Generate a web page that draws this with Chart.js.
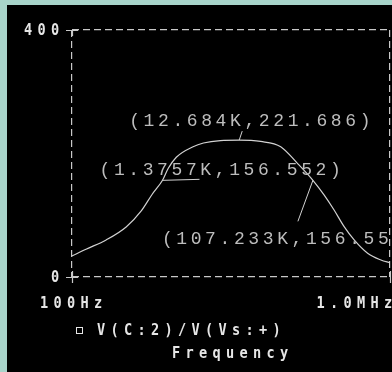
<!DOCTYPE html>
<html><head><meta charset="utf-8">
<script src="https://cdn.jsdelivr.net/npm/chart.js@4/dist/chart.umd.min.js"></script>
<style>
html,body{margin:0;padding:0;background:#a8d4ca;width:392px;height:372px;overflow:hidden}
#wrap{position:absolute;left:7px;top:5px;width:385px;height:367px;background:#000}
canvas{display:block}
</style></head><body>
<div id="wrap"><canvas id="c" width="385" height="367"></canvas></div>
<script>
// Frequency (Hz) and gain V(C:2)/V(Vs:+)
const freqs = [100, 150, 269, 480, 743, 1021, 1375.7, 1626, 2051, 3334, 4500, 7360, 12684, 23600, 42200, 68500, 107233, 148000, 198000, 265000, 354000, 523000, 769000, 1000000];
const gains = [34, 45, 60, 81, 107, 134, 156.6, 176, 194, 211, 217, 221, 221.7, 219.5, 211, 184, 156.6, 133, 108.5, 81.5, 60, 38.4, 27.5, 23];
const xTicks = [100, 1000000];
const xTickLabels = ['100Hz', '1.0MHz'];
const yTicks = [0, 400];
const yTickLabels = ['0', '400'];
const seriesName = 'V(C:2)/V(Vs:+)';
const xTitle = 'Frequency';
const markerX = [12684, 1375.7, 107233];
const markerY = [221.686, 156.552, 156.55];
const markerLabels = ['(12.684K,221.686)', '(1.3757K,156.552)', '(107.233K,156.552)'];

const LINE = '#d2d2d2';
const AXIS = '#c8c8c8';

function drawSpaced(ctx, text, x, y, spacing, align) {
  ctx.letterSpacing = spacing + 'px';
  const w = ctx.measureText(text).width - spacing;
  let sx = x;
  if (align === 'right') sx = x - w;
  else if (align === 'center') sx = x - w / 2;
  ctx.textAlign = 'left';
  ctx.fillText(text, sx, y);
  ctx.letterSpacing = '0px';
  return w;
}
// fixed-cell pixel-ish font for axis texts
const ADV = 13.5, GW = 8;
function drawCells(ctx, text, x, y, align) {
  const w = (text.length - 1) * ADV + GW;
  let sx = x;
  if (align === 'right') sx = x - w;
  else if (align === 'center') sx = x - w / 2;
  ctx.textAlign = 'center';
  for (let i = 0; i < text.length; i++) {
    ctx.save();
    ctx.translate(sx + GW / 2 + i * ADV, y);
    ctx.scale(0.85, 1);
    ctx.fillText(text[i], 0, 0);
    ctx.restore();
  }
}

const decor = {
  id: 'decor',
  afterDraw(chart) {
    const ctx = chart.ctx;
    const xs = chart.scales.x, ys = chart.scales.y;
    const a = chart.chartArea;
    ctx.save();
    // tick marks
    ctx.strokeStyle = AXIS; ctx.lineWidth = 1.2; ctx.setLineDash([]);
    ctx.beginPath();
    yTicks.forEach(v => { const py = Math.round(ys.getPixelForValue(v)) + 0.5; ctx.moveTo(a.left - 6, py); ctx.lineTo(a.left + 6, py); });
    xTicks.forEach(v => { const px = Math.round(xs.getPixelForValue(v)) + 0.5; ctx.moveTo(px, a.bottom - 6); ctx.lineTo(px, a.bottom + 6); });
    ctx.moveTo(Math.round(a.left) + 0.5, a.top); ctx.lineTo(Math.round(a.left) + 0.5, a.top + 6);
    ctx.stroke();
    // axis tick labels
    ctx.fillStyle = '#e6e6e6';
    ctx.font = 'bold 16px "DejaVu Sans Mono"';
    ctx.textBaseline = 'middle';
    yTicks.forEach((v, i) => drawCells(ctx, yTickLabels[i], a.left - 13, ys.getPixelForValue(v) + 1, 'right'));
    drawCells(ctx, xTickLabels[0], xs.getPixelForValue(xTicks[0]) - 1, a.bottom + 27, 'center');
    drawCells(ctx, xTickLabels[1], xs.getPixelForValue(xTicks[1]) + 2, a.bottom + 27, 'right');
    // legend
    const ly = a.bottom + 54;
    ctx.strokeStyle = '#e6e6e6'; ctx.lineWidth = 1;
    ctx.strokeRect(a.left + 4.5, ly - 3.5, 6, 6);
    drawCells(ctx, seriesName, a.left + 25, ly, 'left');
    drawCells(ctx, xTitle, a.left + 100, a.bottom + 77, 'left');
    // markers
    ctx.font = '18px "Liberation Mono"';
    ctx.fillStyle = '#bdbdbd';
    ctx.strokeStyle = LINE; ctx.lineWidth = 1;
    const offs = [[-110, -19], [-63, -10], [-151, 59]];
    const leaders = [[[0, 0], [3, -9]], [[0, 0], [37, -1]], [[0, 0], [-15, 41]]];
    markerX.forEach((mx, i) => {
      const px = xs.getPixelForValue(mx), py = ys.getPixelForValue(markerY[i]);
      drawSpaced(ctx, markerLabels[i], px + offs[i][0], py + offs[i][1], 3.6, 'left');
      ctx.beginPath();
      ctx.moveTo(px + leaders[i][0][0], py + leaders[i][0][1]);
      ctx.lineTo(px + leaders[i][1][0], py + leaders[i][1][1]);
      ctx.stroke();
    });
    ctx.restore();
  }
};

new Chart(document.getElementById('c'), {
  type: 'line',
  data: {
    datasets: [{
      label: seriesName,
      data: freqs.map((f, i) => ({ x: f, y: gains[i] })),
      borderColor: LINE,
      borderWidth: 1.2,
      pointRadius: 0,
      cubicInterpolationMode: 'monotone',
      fill: false
    }]
  },
  options: {
    responsive: false,
    animation: false,
    devicePixelRatio: 1,
    layout: { padding: { left: 65, right: 2, top: 25, bottom: 95 } },
    plugins: { legend: { display: false }, tooltip: { enabled: false } },
    scales: {
      x: {
        type: 'logarithmic', min: 100, max: 1000000,
        afterBuildTicks: s => { s.ticks = xTicks.map(v => ({ value: v })); },
        ticks: { display: false },
        grid: { color: AXIS, lineWidth: 1.2, drawTicks: false, tickLength: 0 },
        border: { display: false, dash: [7, 4] }
      },
      y: {
        min: 0, max: 400,
        afterBuildTicks: s => { s.ticks = yTicks.map(v => ({ value: v })); },
        ticks: { display: false },
        grid: { color: AXIS, lineWidth: 1.2, drawTicks: false, tickLength: 0 },
        border: { display: false, dash: [7, 4] }
      }
    }
  },
  plugins: [decor]
});
</script>
</body></html>
